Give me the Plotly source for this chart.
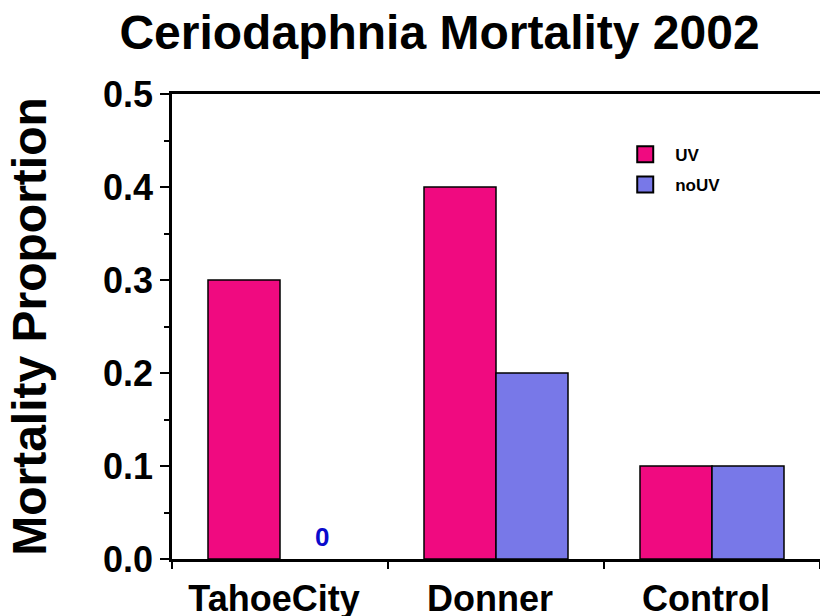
import plotly.graph_objects as go

categories = ["TahoeCity", "Donner", "Control"]
uv_values = [0.3, 0.4, 0.1]
nouv_values = [0.0, 0.2, 0.1]
series_names = ["UV", "noUV"]
y_ticks = [0.0, 0.1, 0.2, 0.3, 0.4, 0.5]

UV_COLOR = "#F00A80"
NOUV_COLOR = "#7878E8"
FONT = "Liberation Sans, Arial, sans-serif"

fig = go.Figure()
fig.add_trace(go.Bar(x=categories, y=uv_values, name=series_names[0],
                     marker=dict(color=UV_COLOR, line=dict(color="black", width=1.5)),
                     showlegend=False))
fig.add_trace(go.Bar(x=categories, y=nouv_values, name=series_names[1],
                     marker=dict(color=NOUV_COLOR,
                                 line=dict(color="black",
                                           width=[0 if v == 0 else 1.5 for v in nouv_values])),
                     showlegend=False))
# legend entries
for name, col in zip(series_names, [UV_COLOR, NOUV_COLOR]):
    fig.add_trace(go.Scatter(x=[None], y=[None], mode="markers", name=name,
                             legendgroup=name,
                             marker=dict(symbol="square", size=19, color=col,
                                         line=dict(color="black", width=2)),
                             showlegend=True))

# zero label
fig.add_annotation(x=categories[0], y=nouv_values[0], text="<b>%g</b>" % nouv_values[0],
                   showarrow=False, xshift=42, yshift=22,
                   font=dict(family=FONT, size=26, color="#0A0ACC"))

fig.update_layout(
    width=820, height=616,
    paper_bgcolor="white", plot_bgcolor="white",
    margin=dict(l=172, r=0, t=94, b=57, autoexpand=False),
    barmode="group", bargap=1/3, bargroupgap=0,
    font=dict(family=FONT, color="black"),
    title=dict(text="<b>Ceriodaphnia Mortality 2002</b>", x=0.536, xanchor="center",
               y=0.948, yanchor="middle", font=dict(size=48, family=FONT)),
    legend=dict(x=0.684, y=0.908, xanchor="left", yanchor="top",
                font=dict(size=17, family=FONT, weight="bold"),
                bgcolor="rgba(0,0,0,0)", tracegroupgap=5, itemwidth=50),
    xaxis=dict(showline=True, linecolor="black", linewidth=2.5, mirror=True,
               ticks="outside", tickson="boundaries", ticklen=7, tickwidth=1.5,
               tickcolor="black", showgrid=False, automargin=False,
               tickfont=dict(size=36, family=FONT, weight="bold"),
               ticklabelstandoff=6, ticklabelshift=-6),
    yaxis=dict(range=[0, 0.5], tickvals=y_ticks, tickformat=".1f",
               showline=True, linecolor="black", linewidth=2.5, automargin=False,
               ticks="outside", ticklen=9, tickwidth=1.5, tickcolor="black",
               minor=dict(dtick=0.05, ticks="outside", ticklen=5, tickwidth=1.5,
                          tickcolor="black", showgrid=False),
               showgrid=False, zeroline=False,
               tickfont=dict(size=36, family=FONT, weight="bold"),
               title=dict(text="<b>Mortality Proportion</b>",
                          font=dict(size=48, family=FONT), standoff=42)),
)

fig.write_html("out.html", config={"displayModeBar": False},
               post_script="document.body.style.margin='0';document.body.style.overflow='hidden';")
